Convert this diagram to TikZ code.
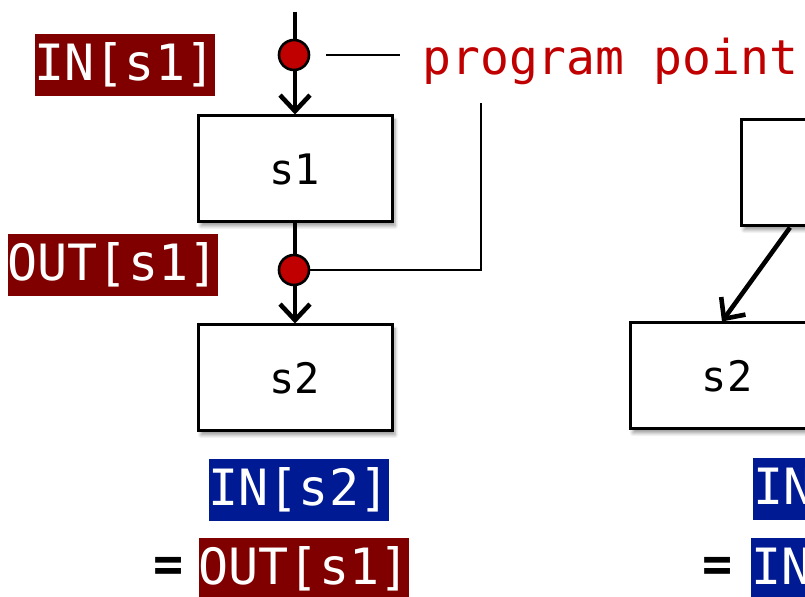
\documentclass[tikz,border=0pt]{standalone}
\usepackage{fontspec}
\setmonofont{DejaVu Sans Mono}
\usepackage{tikz}
\usetikzlibrary{positioning,calc,arrows.meta,shadows.blur}
\definecolor{pointred}{RGB}{192,0,0}
\definecolor{outred}{RGB}{128,0,0}
\definecolor{inblue}{RGB}{0,26,148}

\begin{document}
\begin{tikzpicture}[x=0.5pt, y=-0.5pt, node distance=0pt,
    stmt/.style={draw, line width=1.5pt, fill=white, minimum width=97pt, minimum height=53pt,
        font=\ttfamily\fontsize{21}{25}\selectfont,
        blur shadow={shadow xshift=1.5pt, shadow yshift=-2pt, shadow blur steps=6, shadow opacity=40}},
    flow/.style={line width=2.3pt, -{Straight Barb[length=8pt,width=15pt]}},
    ppoint/.style={circle, draw, line width=1.3pt, fill=pointred, minimum size=15pt, inner sep=0pt},
    lab/.style={text=white, inner sep=0pt, minimum height=31pt, font=\ttfamily\fontsize{25}{30}\selectfont},
    outlab/.style={lab, fill=outred},
    inlab/.style={lab, fill=inblue},
    guide/.style={line width=1pt}]
    \path [use as bounding box] (0,0) rectangle (805,597);
    \clip (0,0) rectangle (805,597);

    % straight-line flow
    \node [stmt] (s1) at (295,169) {s1};
    \node [stmt] (s2) at (295,378) {s2};
    \coordinate (entry) at (295,12);
    \coordinate (before) at (294,55);
    \coordinate (after) at (294,270);
    \coordinate (gtop) at (481,103);
    \draw [flow] (entry) -- (s1);
    \draw [flow] (s1) -- (s2);
    \draw [guide] (after) -- (after -| gtop) -- (gtop);
    \node [ppoint] (p1) at (before) {};
    \node [ppoint] (p2) at (after) {};

    \node [anchor=base west, inner sep=0pt, text=pointred, font=\ttfamily\fontsize{24}{28}\selectfont] (pp) at (422,75) {program point};
    \draw [guide] ([xshift=8pt]p1.east) -- ([xshift=-11pt]pp.west |- p1);

    \node [outlab] (ins1) at (125,65) {IN[s1]};
    \node [outlab] (outs1) at (113,265) {OUT[s1]};

    \node [inlab] (ins2) at (299,490) {IN[s2]};
    \node [outlab] (eqout) at (304,569) {OUT[s1]};
    \node [left=7pt of eqout, inner sep=0pt, font=\ttfamily\bfseries\fontsize{25}{30}\selectfont] (eq1) {=};

    % second case
    \node [stmt] (r1) at (838,173) {};
    \node [stmt] (r2) at (727,376) {s2};
    \draw [flow] ([xshift=-24pt]r1.south) -- ([xshift=-2.5pt]r2.north);

    \node [inlab, anchor=west] (ins2r) at (753,489) {IN[s2]};
    \node [inlab, anchor=west] (eqin) at (751,569) {IN[s1]};
    \node [left=9pt of eqin, inner sep=0pt, font=\ttfamily\bfseries\fontsize{25}{30}\selectfont] (eq2) {=};
\end{tikzpicture}
\end{document}
